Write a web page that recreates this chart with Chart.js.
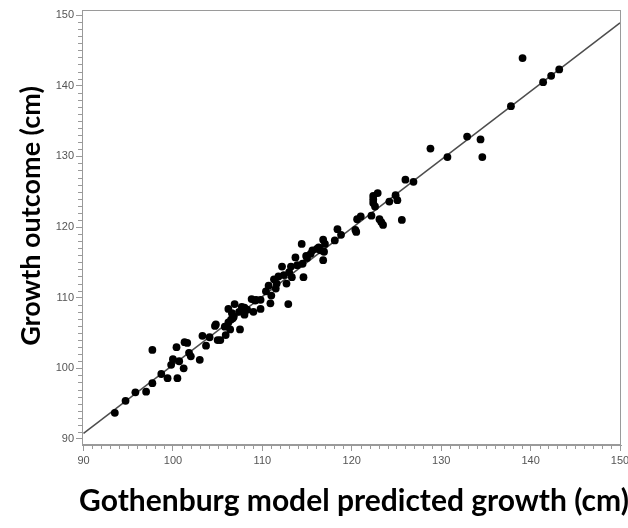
<!DOCTYPE html>
<html>
<head>
<meta charset="utf-8">
<script src="https://cdn.jsdelivr.net/npm/chart.js@4"></script>
<style>
  html, body { margin: 0; padding: 0; background: #ffffff; }
  #wrap { width: 628px; height: 528px; }
</style>
</head>
<body>
<div id="wrap"><canvas id="c" width="628" height="528"></canvas></div>
<script>
// Predicted growth (Gothenburg model) and observed growth outcome, cm
const predicted = [
  93.5, 94.7, 95.8, 97.0, 97.7, 97.7, 98.7, 99.4, 99.8, 100.0,
  100.5, 100.4, 100.7, 101.2, 101.3, 101.6, 101.8, 102.0, 103.0, 103.3,
  103.7, 104.1, 104.7, 104.8, 105.0, 105.3, 105.9, 106.2, 106.2, 106.4,
  106.5, 106.7, 106.9, 106.8, 107.5, 107.4, 107.7, 108.0, 108.3, 108.8,
  109.0, 109.3, 109.8, 109.8, 110.7, 110.9, 111.0, 111.3, 111.5, 111.8,
  112.2, 112.7, 112.9, 113.0, 113.2, 113.3, 113.7, 114.4, 114.5, 114.6,
  115.0, 115.6, 116.1, 116.5, 116.8, 116.8, 116.9, 118.1, 118.4, 118.8,
  120.4, 120.6, 121.0, 122.2, 122.4, 122.4, 122.6, 122.9, 123.1, 123.5,
  124.2, 124.9, 125.1, 125.6, 126.0, 126.9, 128.8, 130.7, 132.9, 134.4,
  134.6, 137.8, 139.1, 141.4, 142.3, 143.2,
  105.8, 106.6, 108.0, 109.2, 110.4, 111.6, 112.4, 113.9, 114.9, 115.4,
  116.3, 117.0, 120.5, 123.3, 122.4
];
const outcome = [
  93.7, 95.4, 96.6, 96.7, 97.9, 102.6, 99.2, 98.6, 100.5, 101.3,
  98.6, 103.0, 101.0, 100.0, 103.7, 103.6, 102.2, 101.7, 101.2, 104.6,
  103.2, 104.4, 106.0, 106.2, 104.0, 104.0, 104.7, 108.4, 106.5, 105.5,
  106.9, 107.1, 109.1, 107.3, 105.5, 108.0, 108.7, 107.6, 108.3, 109.8,
  108.0, 109.7, 108.4, 109.7, 111.7, 109.2, 110.3, 112.6, 111.3, 113.0,
  114.4, 112.0, 109.1, 113.6, 114.4, 112.9, 115.7, 117.6, 114.8, 112.9,
  115.6, 116.7, 116.9, 116.7, 118.2, 115.3, 116.5, 118.1, 119.7, 118.9,
  119.6, 121.1, 121.5, 121.6, 124.4, 123.4, 122.9, 124.8, 121.1, 120.3,
  123.6, 124.5, 123.8, 121.0, 126.7, 126.4, 131.1, 129.9, 132.8, 132.4,
  129.9, 137.1, 143.9, 140.5, 141.4, 142.3,
  105.9, 107.8, 108.6, 109.6, 110.9, 112.0, 113.2, 114.6, 115.9, 116.2,
  117.1, 117.6, 119.3, 120.7, 123.9
];

// Fitted line end points
const fitX = [90, 150];
const fitY = [90.8, 148.9];

// Axis tick values and captions
const xTicks = [90, 100, 110, 120, 130, 140, 150];
const yTicks = [90, 100, 110, 120, 130, 140, 150];
const xCaption = 'Gothenburg model predicted growth (cm)';
const yCaption = 'Growth outcome (cm)';

const AXIS_GREY = '#9a9a9a';
const LABEL_GREY = '#555555';

// Plot frame, minor ticks every 1 cm and the two axis captions
const framePlugin = {
  id: 'frameAndCaptions',
  afterDraw(chart) {
    const { ctx, chartArea: a, scales } = chart;
    const x = scales.x, y = scales.y;
    ctx.save();
    ctx.strokeStyle = AXIS_GREY;
    ctx.lineWidth = 1;
    ctx.strokeRect(a.left + 0.5, a.top + 0.5, a.right - a.left - 1, a.bottom - a.top - 1);

    ctx.beginPath();
    for (let v = Math.ceil(x.min); v <= x.max; v++) {
      if (v % 10 === 0) continue;
      const px = Math.round(x.getPixelForValue(v)) + 0.5;
      ctx.moveTo(px, a.bottom);
      ctx.lineTo(px, a.bottom + 4);
    }
    for (let v = Math.ceil(y.min); v <= y.max; v++) {
      if (v % 10 === 0) continue;
      const py = Math.round(y.getPixelForValue(v)) + 0.5;
      ctx.moveTo(a.left, py);
      ctx.lineTo(a.left - 4, py);
    }
    ctx.stroke();

    ctx.fillStyle = '#000000';
    ctx.textAlign = 'center';
    ctx.textBaseline = 'alphabetic';
    ctx.font = 'bold 30px Lato';
    ctx.fillText(xCaption, 354, 511);

    ctx.translate(40, 216);
    ctx.rotate(-Math.PI / 2);
    ctx.font = 'bold 27px Lato';
    ctx.fillText(yCaption, 0, 0);
    ctx.restore();
  }
};

const points = predicted.map((p, i) => ({ x: p, y: outcome[i] }));
const fitLine = fitX.map((p, i) => ({ x: p, y: fitY[i] }));

new Chart(document.getElementById('c'), {
  type: 'scatter',
  data: {
    datasets: [
      {
        label: 'Observed',
        data: points,
        backgroundColor: '#000000',
        borderColor: '#000000',
        borderWidth: 0,
        pointRadius: 3.9,
        pointHoverRadius: 3.9
      },
      {
        type: 'line',
        label: 'Fit',
        data: fitLine,
        borderColor: '#4d4d4d',
        borderWidth: 1.5,
        pointRadius: 0,
        fill: false,
        tension: 0
      }
    ]
  },
  options: {
    responsive: false,
    devicePixelRatio: 1,
    animation: false,
    layout: { padding: { left: 0, top: 10, right: 7, bottom: 0 } },
    plugins: {
      legend: { display: false },
      tooltip: { enabled: false }
    },
    scales: {
      x: {
        type: 'linear',
        min: 89.83,
        max: 150.11,
        afterBuildTicks: s => { s.ticks = xTicks.map(v => ({ value: v })); },
        afterFit: s => { s.height = 83; s.paddingLeft = 0; s.paddingRight = 0; },
        ticks: {
          color: LABEL_GREY,
          font: { family: 'Liberation Sans', size: 11 },
          padding: 3,
          maxRotation: 0,
          autoSkip: false
        },
        grid: { drawOnChartArea: false, drawTicks: true, tickLength: 6, color: AXIS_GREY },
        border: { display: true, color: AXIS_GREY }
      },
      y: {
        type: 'linear',
        min: 89.15,
        max: 150.71,
        afterBuildTicks: s => { s.ticks = yTicks.map(v => ({ value: v })); },
        afterFit: s => { s.width = 82; s.paddingTop = 0; s.paddingBottom = 0; },
        ticks: {
          color: LABEL_GREY,
          font: { family: 'Liberation Sans', size: 11 },
          padding: 2,
          autoSkip: false
        },
        grid: { drawOnChartArea: false, drawTicks: true, tickLength: 6, color: AXIS_GREY },
        border: { display: true, color: AXIS_GREY }
      }
    }
  },
  plugins: [framePlugin]
});
</script>
</body>
</html>
